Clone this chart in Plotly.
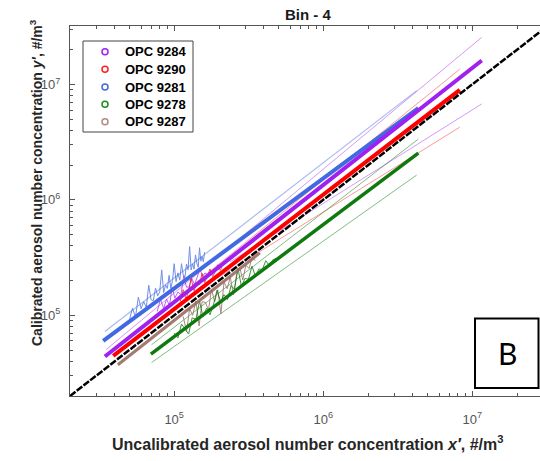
import math
import plotly.graph_objects as go

# ---------------- data ----------------
OPC_NAMES = ["OPC 9284", "OPC 9290", "OPC 9281", "OPC 9278", "OPC 9287"]

X_TICKS = [1e5, 1e6, 1e7]
X_TICK_TEXT = ["10<sup>5</sup>", "10<sup>6</sup>", "10<sup>7</sup>"]
Y_TICKS = [1e5, 1e6, 1e7]
Y_TICK_TEXT = ["10<sup>5</sup>", "10<sup>6</sup>", "10<sup>7</sup>"]

# 1:1 reference line
one_x = [2e4, 3e7]
one_y = [2e4, 3e7]

# OPC 9284 (purple)
p9284_fit_x = [3.43e4, 1.16e7]
p9284_fit_y = [4.40e4, 1.61e7]
p9284_up_x = [3.48e4, 1.16e7]
p9284_up_y = [5.02e4, 2.56e7]
p9284_lo_x = [2.37e5, 1.16e7]
p9284_lo_y = [2.90e5, 6.78e6]
p9284_raw_x = [77000, 81000, 85000, 89000, 93000, 97000, 101000, 106000, 111000, 116000,
               121000, 126000, 131000, 137000, 143000, 149000, 155000, 161000, 167000]
p9284_raw_y = [108000, 138000, 115000, 138000, 121000, 175000, 141000, 159000, 150000, 220000,
               175000, 176000, 210000, 185000, 215000, 253000, 217000, 233000, 225000]

# OPC 9290 (red)
p9290_fit_x = [3.90e4, 8.26e6]
p9290_fit_y = [4.46e4, 8.96e6]
p9290_up_x = [3.88e4, 8.26e6]
p9290_up_y = [5.02e4, 1.355e7]
p9290_lo_x = [1.49e5, 8.26e6]
p9290_lo_y = [1.70e5, 4.27e6]
p9290_raw_x = [110000, 115000, 120000, 125000, 130000, 136000, 142000, 148000, 154000, 160000,
               167000, 174000, 181000, 188000, 196000, 204000, 212000]
p9290_raw_y = [132000, 167000, 138000, 163000, 208000, 163000, 192000, 185000, 231000, 192000,
               217000, 252000, 217000, 235000, 274000, 245000, 276000]

# OPC 9281 (blue)
p9281_fit_x = [3.34e4, 4.35e6]
p9281_fit_y = [6.01e4, 6.22e6]
p9281_up_x = [3.43e4, 4.24e6]
p9281_up_y = [7.24e4, 8.83e6]
p9281_raw_x = [50000, 52500, 55000, 57500, 60000, 62500, 65000, 67500, 70000, 72500,
               75000, 77500, 80000, 82500, 85000, 87500, 90000, 92500, 95000, 97500,
               100000, 103000, 106000, 109000, 112000, 115000, 118000, 121000, 124000, 127000,
               130000, 133000, 136000, 139000, 142000, 145000, 148000, 151000, 154000, 157000,
               160000]
p9281_raw_y = [90000, 115500, 96300, 143800, 114000, 131300, 117000, 182300, 136500, 134100,
               172500, 147300, 160000, 247500, 157300, 183800, 171000, 222000, 171000, 199900,
               280000, 195700, 233200, 201700, 280000, 224300, 212400, 278300, 248000, 393700,
               247000, 279300, 251600, 333600, 284000, 261000, 384800, 294500, 323400, 290500,
               352000]

# OPC 9278 (green)
p9278_fit_x = [6.98e4, 4.35e6]
p9278_fit_y = [4.61e4, 2.54e6]
p9278_up_x = [7.05e4, 4.35e6]
p9278_up_y = [5.56e4, 3.36e6]
p9278_lo_x = [7.05e4, 4.24e6]
p9278_lo_y = [3.90e4, 1.64e6]
p9278_raw_x = [100000, 106000, 112000, 118000, 125000, 132000, 140000, 148000, 156000, 165000,
               174000, 184000, 194000, 205000, 216000, 228000, 241000, 254000, 268000, 283000,
               299000, 315000, 333000, 351000, 370000, 391000, 412000, 435000, 460000, 485000]
p9278_raw_y = [70000, 63600, 84000, 76700, 68800, 95000, 92400, 133200, 96700, 115500,
               101000, 125000, 164900, 131200, 151200, 136800, 181000, 168000, 254600, 178000,
               209300, 205000, 266400, 218000, 251600, 250000, 297000, 269700, 303600, 310400]

# OPC 9287 (brown)
p9287_fit_x = [4.19e4, 3.76e5]
p9287_fit_y = [3.73e4, 3.47e5]
p9287_raw_x = [115000, 121000, 127000, 133000, 140000, 147000, 154000, 162000, 170000, 178000,
               187000, 196000, 206000, 216000, 227000, 238000, 250000, 262000, 275000, 289000,
               303000, 318000, 334000, 350000]
p9287_raw_y = [97800, 72600, 114300, 99800, 133000, 80900, 130900, 129600, 110500, 169100,
               130900, 166600, 103000, 194400, 170000, 214200, 150000, 222700, 261000, 202300,
               272700, 254400, 317300, 297500]

# ---------------- styles ----------------
C_PURPLE = "#A020F0"
C_RED = "#FF0000"
C_BLUE = "#4169E1"
C_GREEN = "#0E7A0E"
C_BROWN = "#9A6B62"
LEGEND_COLORS = ["#A020F0", "#FF2020", "#4169E1", "#228B22", "#B08A86"]

AX = "#555555"
FONT = "Liberation Sans, Arial, sans-serif"

# plot-area geometry in pixels (for paper-coordinate placement)
L, R, T, B = 70, 0, 26, 65
W, H = 540, 461
PW, PH = W - L - R, H - T - B


def px(xp):
    return (xp - L) / PW


def py(yp):
    return (H - B - yp) / PH


fig = go.Figure()


def add_line(x, y, color, width, opacity=1.0, dash=None):
    fig.add_trace(go.Scatter(x=x, y=y, mode="lines",
                             line=dict(color=color, width=width, dash=dash),
                             opacity=opacity, showlegend=False, hoverinfo="skip"))


# thin bound lines
add_line(p9284_up_x, p9284_up_y, C_PURPLE, 1, 0.45)
add_line(p9284_lo_x, p9284_lo_y, C_PURPLE, 1, 0.45)
add_line(p9290_up_x, p9290_up_y, C_RED, 1, 0.4)
add_line(p9290_lo_x, p9290_lo_y, C_RED, 1, 0.4)
add_line(p9281_up_x, p9281_up_y, C_BLUE, 1.2, 0.45)
add_line(p9278_up_x, p9278_up_y, C_GREEN, 1, 0.5)
add_line(p9278_lo_x, p9278_lo_y, C_GREEN, 1, 0.5)

# raw noisy traces
add_line(p9281_raw_x, p9281_raw_y, C_BLUE, 1, 0.75)
add_line(p9284_raw_x, p9284_raw_y, C_PURPLE, 1, 0.7)
add_line(p9290_raw_x, p9290_raw_y, C_RED, 1, 0.7)
add_line(p9287_raw_x, p9287_raw_y, C_BROWN, 1, 0.8)
add_line(p9278_raw_x, p9278_raw_y, C_GREEN, 1, 0.8)

# thick fitted lines
add_line(p9287_fit_x, p9287_fit_y, C_BROWN, 3, 0.9)
add_line(p9281_fit_x, p9281_fit_y, C_BLUE, 4)
add_line(p9284_fit_x, p9284_fit_y, C_PURPLE, 4)
add_line(p9278_fit_x, p9278_fit_y, C_GREEN, 3.5)
add_line(p9290_fit_x, p9290_fit_y, C_RED, 4)

# 1:1 line
add_line(one_x, one_y, "black", 2.5, 1.0, "7px,1.5px")

minor_vals = [m * 10 ** e for e in range(4, 8) for m in range(2, 10)]

axis_common = dict(
    type="log", showgrid=False, zeroline=False, showline=True,
    linecolor=AX, linewidth=1, ticks="inside", ticklen=5, tickcolor=AX,
    tickfont=dict(family=FONT, size=13, color="#555555"),
    minor=dict(tickvals=minor_vals, ticks="inside", ticklen=3, tickcolor=AX, showgrid=False),
)

fig.update_layout(
    width=W, height=H,
    margin=dict(l=L, r=R, t=T, b=B, autoexpand=False),
    paper_bgcolor="white", plot_bgcolor="white",
    font=dict(family=FONT),
    xaxis=dict(axis_common, range=[math.log10(2e4), 7.455], tickvals=X_TICKS,
               ticktext=X_TICK_TEXT, mirror="ticks", ticklabelstandoff=11),
    yaxis=dict(axis_common, range=[math.log10(2e4), 7.506], tickvals=Y_TICKS,
               ticktext=Y_TICK_TEXT, mirror=False, ticklabelstandoff=6),
    showlegend=False,
)


def note(text, xp, yp, size, color="#262626", angle=0, family=FONT, xanchor="center"):
    fig.add_annotation(text=text, xref="paper", yref="paper", x=px(xp), y=py(yp),
                       xanchor=xanchor, yanchor="middle", showarrow=False, textangle=angle,
                       font=dict(family=family, size=size, color=color))


# manual legend (box, open circle markers, labels)
fig.add_shape(type="rect", xref="paper", yref="paper", x0=px(83), x1=px(193), y0=py(132), y1=py(41),
              line=dict(color="#444444", width=1), fillcolor="white", layer="above")
row_y = [51.7, 69.3, 87.0, 104.3, 121.7]
for name, col, ry in zip(OPC_NAMES, LEGEND_COLORS, row_y):
    fig.add_shape(type="circle", xref="paper", yref="paper",
                  x0=px(105 - 3), x1=px(105 + 3), y0=py(ry + 3), y1=py(ry - 3),
                  line=dict(color=col, width=1.5), layer="above")
    note("<b>" + name + "</b>", 123, ry, 13, "black", xanchor="left")

note("<b>Bin - 4</b>", 308, 14, 15, "#1a1a1a")
note("<b>Uncalibrated aerosol number concentration <i>x′</i>, #/m<sup>3</sup></b>", 308, 443, 16)
note("<b>Calibrated aerosol number concentration <i>y′</i>, #/m<sup>3</sup></b>", 36, 183, 14, angle=-90)

# panel label box
fig.add_shape(type="rect", xref="paper", yref="paper", x0=px(475), x1=px(538.5), y0=py(388), y1=py(318.5),
              line=dict(color="black", width=2), fillcolor="white", layer="above")
note("B", 507, 353, 30, "black", family="Lato, Liberation Sans, sans-serif")

fig.write_html("out.html", post_script="document.body.style.margin='0px';",
               config={"displayModeBar": False})
